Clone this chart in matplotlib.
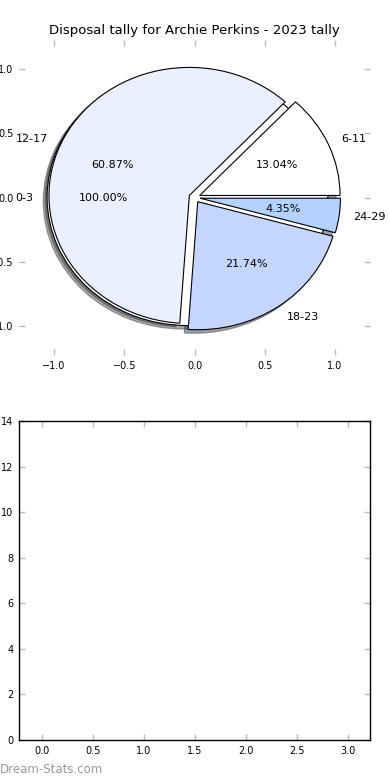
import matplotlib
matplotlib.use("Agg")
import matplotlib.pyplot as plt

# Pie data
age_labels = ["6-11", "12-17", "18-23", "24-29"]
tally = [3, 14, 5, 1]
wedge_colors = ["#ffffff", "#eaf0ff", "#c4d6ff", "#b3d2ff"]

# the extra single-wedge pie (drawn first, sits under the other one)
extra_label = ["0-3"]
extra_value = [1]
extra_color = ["#ffffff"]

title = "Disposal tally for Archie Perkins - 2023 tally"

bar_xticks = [0.0, 0.5, 1.0, 1.5, 2.0, 2.5, 3.0]
bar_yticks = [0, 2, 4, 6, 8, 10, 12, 14]

plt.rcParams["font.family"] = "DejaVu Sans"

fig = plt.figure(figsize=(3.9, 7.8), dpi=100)
fig.patch.set_facecolor("white")

tick_grey = "#bbbbbb"

# top axes with the pie
ax1 = fig.add_axes([19 / 390, 1 - 355 / 780, 351 / 390, 315 / 780])
ax1.pie(extra_value, labels=extra_label, autopct="%.2f%%", startangle=0,
        explode=[0.05], colors=extra_color, shadow=True,
        wedgeprops=dict(edgecolor="black", linewidth=0.8),
        textprops=dict(fontsize=8), frame=True)
ax1.pie(tally, labels=age_labels, autopct="%.2f%%", startangle=0,
        explode=[0.04] * len(tally), colors=wedge_colors, shadow=True,
        wedgeprops=dict(edgecolor="black", linewidth=0.8),
        textprops=dict(fontsize=8), frame=True)
ax1.set_aspect("auto")
ax1.set_xlim(-1.25, 1.25)
ax1.set_ylim(-1.23, 1.23)
ax1.set_xticks([-1.0, -0.5, 0.0, 0.5, 1.0])
ax1.set_yticks([-1.0, -0.5, 0.0, 0.5, 1.0])
for s in ax1.spines.values():
    s.set_visible(False)
ax1.tick_params(direction="in", length=4, width=1, color=tick_grey,
                labelsize=7, top=True, right=True, pad=4)
ax1.set_title(title, fontsize=9.5, pad=4)

# bottom empty axes
ax2 = fig.add_axes([19 / 390, 1 - 740 / 780, 351 / 390, 319 / 780])
ax2.set_xlim(-0.225, 3.215)
ax2.set_ylim(0, 14)
ax2.set_xticks(bar_xticks)
ax2.set_yticks(bar_yticks)
ax2.tick_params(direction="in", length=4, width=1, color=tick_grey,
                labelsize=7, top=True, right=True, pad=4)
for s in ax2.spines.values():
    s.set_linewidth(1)

fig.text(0.0, 1 - 776 / 780, "Dream-Stats.com", fontsize=8.5, color="#999999",
         va="bottom", ha="left")

fig.savefig("out.png", dpi=100, facecolor="white")
